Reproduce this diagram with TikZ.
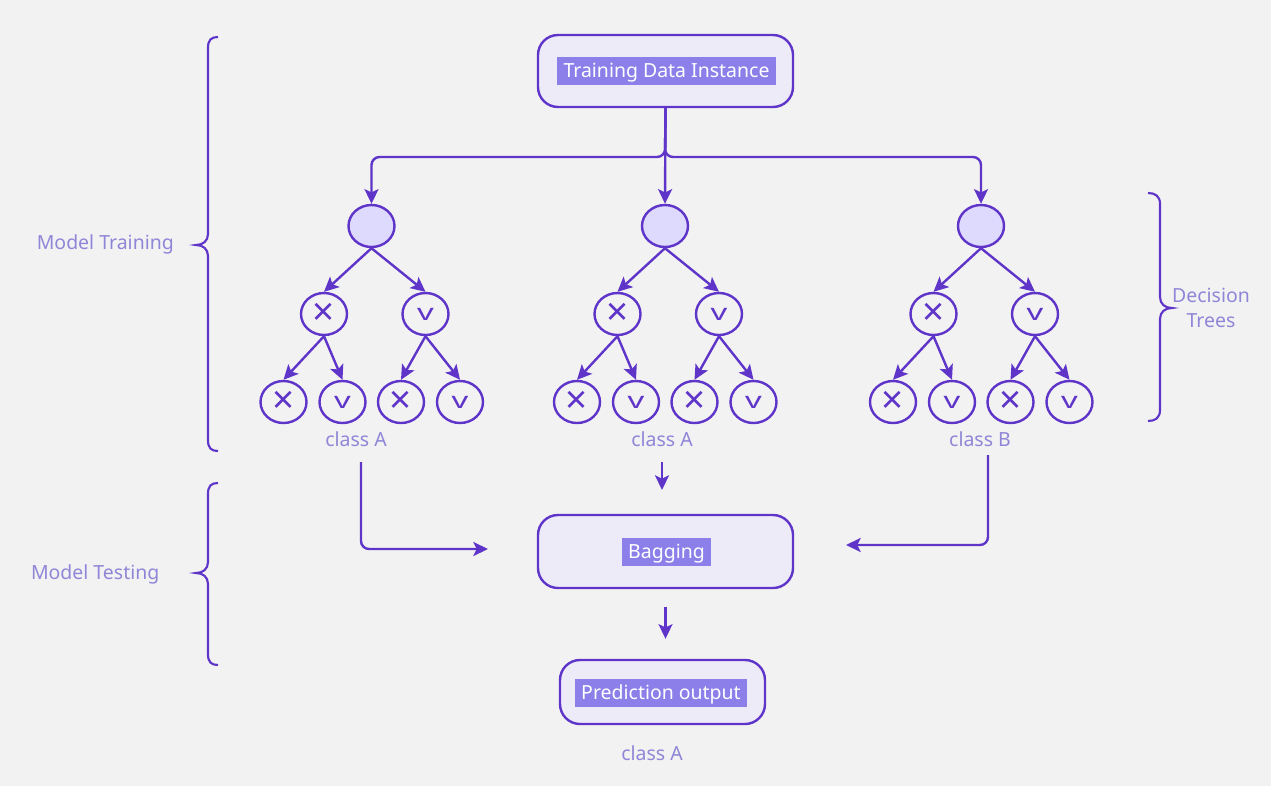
\documentclass[tikz,border=0pt]{standalone}
\usepackage{fontspec}
\setmainfont{Noto Sans}
\usetikzlibrary{arrows.meta,shapes.geometric}
\definecolor{bg}{HTML}{F2F2F2}
\definecolor{ln}{HTML}{5F35C9}
\definecolor{cfill}{HTML}{DEDAFD}
\definecolor{bfill}{HTML}{EEEBF8}
\definecolor{hl}{HTML}{8C7FE9}
\definecolor{lt}{HTML}{8F86D8}
\newcommand\mytree[2]{%
  \node[rootnode] (#1r) at (#2,226) {};
  \node[tnode] (#1a) at ({#2-47.5},314) {\xsym};
  \node[tnode] (#1b) at ({#2+54},314) {\vsym};
  \node[tnode] (#1aa) at ({#2-88},402) {\xsym};
  \node[tnode] (#1ab) at ({#2-29},402) {\vsym};
  \node[tnode] (#1ba) at ({#2+29.5},402) {\xsym};
  \node[tnode] (#1bb) at ({#2+88.5},402) {\vsym};
  \draw[arr] (#1r.south) -- (#1a.north);
  \draw[arr] (#1r.south) -- (#1b.north);
  \draw[arr] (#1a.south) -- (#1aa.north);
  \draw[arr] (#1a.south) -- (#1ab.north);
  \draw[arr] (#1b.south) -- (#1ba.north);
  \draw[arr] (#1b.south) -- (#1bb.north);
}
\newcommand\xsym{{\fontsize{29}{29}\selectfont ×}}
\newcommand\vsym{{\fontsize{17}{17}\selectfont\scalebox{1.45}[1]{v}}}
\begin{document}
\begin{tikzpicture}[x=0.75pt,y=-0.75pt,
  every node/.style={font=\fontsize{14.6}{18.75}\selectfont},
  box/.style={draw=ln, line width=1.8pt, fill=bfill, rounded corners=15pt, inner sep=0},
  hlab/.style={fill=hl, text=white, inner xsep=5pt, inner ysep=1.5pt, text height=14pt, text depth=4pt},
  tnode/.style={ellipse, draw=ln, text=ln, line width=1.8pt, minimum width=34.5pt, minimum height=31.5pt, inner sep=0},
  rootnode/.style={tnode, fill=cfill},
  arr/.style={draw=ln, line width=1.8pt, rounded corners=6pt, -{Stealth[length=11pt,width=10.5pt,inset=2.5pt]}},
  brace/.style={draw=ln, line width=1.6pt},
  lbl/.style={text=lt}
]
\fill[bg] (0,0) rectangle (1271,786);
\useasboundingbox (0,0) rectangle (1271,786);

% top box
\node[box, minimum width=191.25pt, minimum height=54pt] (tdi) at (665.5,71) {};
\node[hlab] (tdit) at (666.5,71) {Training Data Instance};

% trees
\mytree{t1}{371.5}
\mytree{t2}{665}
\mytree{t3}{981}

\coordinate (split) at (665,157);
\draw[arr] (tdi.south) -- (split) -| (t1r.north);
\draw[arr] (tdi.south) -- (split) -| (t3r.north);
\draw[arr] (tdi.south) -- (t2r.north);

\node[lbl] (c1) at (356,439) {class A};
\node[lbl] (c2) at (662,439) {class A};
\node[lbl] (c3) at (980,439) {class B};

% bagging
\node[box, minimum width=191.25pt, minimum height=54.75pt] (bag) at (665.5,551.5) {};
\node[hlab] (bagt) at (666.5,552) {Bagging};

% prediction
\node[box, minimum width=153.75pt, minimum height=48pt] (pred) at (662.5,692) {};
\node[hlab, font=\fontsize{14.6}{16}\selectfont] (predt) at (661,692.5) {Prediction output};
\node[lbl] (c4) at (652,753) {class A};

% bottom connectors
\coordinate (s1) at (361,462);
\coordinate (e1) at (488,549);
\coordinate (s2) at (662,462);
\coordinate (e2) at (662,490);
\coordinate (s3) at (988,455);
\coordinate (e3) at (846,545);
\draw[arr] (s1) |- (e1);
\draw[arr] (s2) -- (e2);
\draw[arr] (s3) |- (e3);
\draw[arr, shorten <=13.5pt, shorten >=15pt] (bag.south) -- (bag.south |- pred.north);

% braces
\draw[brace] (218,37) .. controls (211,37) and (208,40) .. (208,48) -- (208,234)
  .. controls (208,241) and (203,245) .. (196,245)
  .. controls (203,245) and (208,249) .. (208,256) -- (208,440)
  .. controls (208,448) and (211,451) .. (218,451);
\draw[brace] (218,483) .. controls (211,483) and (208,486) .. (208,494) -- (208,562)
  .. controls (208,569) and (203,573) .. (196,573)
  .. controls (203,573) and (208,577) .. (208,584) -- (208,654)
  .. controls (208,662) and (211,665) .. (218,665);
\draw[brace] (1148,193) .. controls (1155,193) and (1160,196) .. (1160,204) -- (1160,297)
  .. controls (1160,304) and (1165,308) .. (1172,308)
  .. controls (1165,308) and (1160,312) .. (1160,319) -- (1160,410)
  .. controls (1160,418) and (1155,421) .. (1148,421);

\node[lbl, anchor=east] (mtr) at (178.5,244) {Model Training};
\node[lbl, anchor=east] (mte) at (164,574) {Model Testing};
\node[lbl, align=center] (dt) at (1211,308) {Decision\\Trees};
\end{tikzpicture}
\end{document}
